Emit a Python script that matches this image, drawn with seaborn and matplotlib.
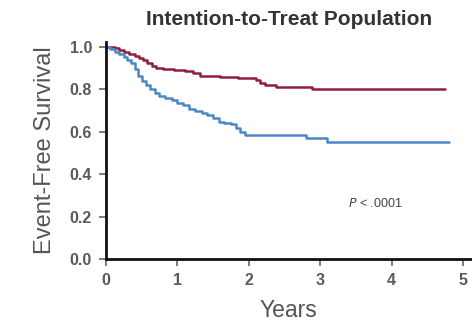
import numpy as np
import pandas as pd
import matplotlib
matplotlib.use("Agg")
import matplotlib.pyplot as plt
import seaborn as sns

# Kaplan-Meier step estimates (years, event-free survival)
arm_a_years = [0.00, 0.12, 0.18, 0.25, 0.32, 0.40, 0.46, 0.52, 0.58, 0.64, 0.70, 0.80, 0.95,
               1.10, 1.22, 1.32, 1.60, 1.85, 2.10, 2.16, 2.22, 2.38, 2.88, 4.75]
arm_a_surv  = [1.000, 0.995, 0.985, 0.975, 0.965, 0.960, 0.950, 0.940, 0.925, 0.910, 0.900, 0.895, 0.890,
               0.885, 0.878, 0.865, 0.860, 0.855, 0.845, 0.830, 0.820, 0.810, 0.800, 0.800]

arm_b_years = [0.00, 0.06, 0.12, 0.18, 0.25, 0.30, 0.35, 0.40, 0.45, 0.50, 0.56, 0.62, 0.68, 0.74,
               0.82, 0.92, 1.00, 1.08, 1.16, 1.25, 1.35, 1.42, 1.50, 1.58, 1.65, 1.75, 1.82, 1.88,
               1.95, 2.80, 3.10, 4.80]
arm_b_surv  = [1.000, 0.990, 0.975, 0.965, 0.955, 0.940, 0.925, 0.895, 0.865, 0.840, 0.820, 0.800, 0.785, 0.770,
               0.760, 0.750, 0.735, 0.725, 0.710, 0.700, 0.690, 0.680, 0.665, 0.645, 0.640, 0.635, 0.620, 0.600,
               0.585, 0.570, 0.553, 0.553]

x_ticks = [0, 1, 2, 3, 4, 5]
y_ticks = [0.0, 0.2, 0.4, 0.6, 0.8, 1.0]

df = pd.concat([
    pd.DataFrame({"Years": arm_a_years, "EFS": arm_a_surv, "arm": "A"}),
    pd.DataFrame({"Years": arm_b_years, "EFS": arm_b_surv, "arm": "B"}),
], ignore_index=True)

sns.set_theme(style="ticks")
plt.rcParams["font.family"] = ["Liberation Sans", "DejaVu Sans"]

fig = plt.figure(figsize=(4.72, 3.30), dpi=100)
ax = fig.add_axes([0.2246, 0.215, 0.7746, 0.6585])

sns.lineplot(data=df, x="Years", y="EFS", hue="arm",
             palette={"A": "#8e1f3b", "B": "#4f86c6"},
             drawstyle="steps-post", linewidth=1.8, legend=False, ax=ax)

ax.set_xlim(0, 5.12)
ax.set_ylim(0, 1.025)
ax.set_xticks(x_ticks)
ax.set_yticks(y_ticks)
ax.set_xticklabels([str(v) for v in x_ticks])
ax.set_yticklabels([f"{v:.1f}" for v in y_ticks])

for side in ("top", "right"):
    ax.spines[side].set_visible(False)
for side in ("left", "bottom"):
    ax.spines[side].set_linewidth(2.0)
    ax.spines[side].set_color("#111111")

ax.tick_params(axis="both", direction="out", length=5, width=1.2,
               color="#666666", labelsize=11.5, labelcolor="#5a5a5a", pad=5)
for lbl in ax.get_xticklabels() + ax.get_yticklabels():
    lbl.set_fontweight("bold")

ax.set_xlabel("Years", fontsize=16.5, color="#555555", labelpad=8)
ax.set_ylabel("Event-Free Survival", fontsize=17, color="#555555", labelpad=10)
ax.set_title("Intention-to-Treat Population", fontsize=15, fontweight="bold",
             color="#333333", pad=12)

ax.text(3.39, 0.26, r"$P$ < .0001", fontsize=9, color="#444444",
        ha="left", va="center")

fig.savefig("out.png", dpi=100)
